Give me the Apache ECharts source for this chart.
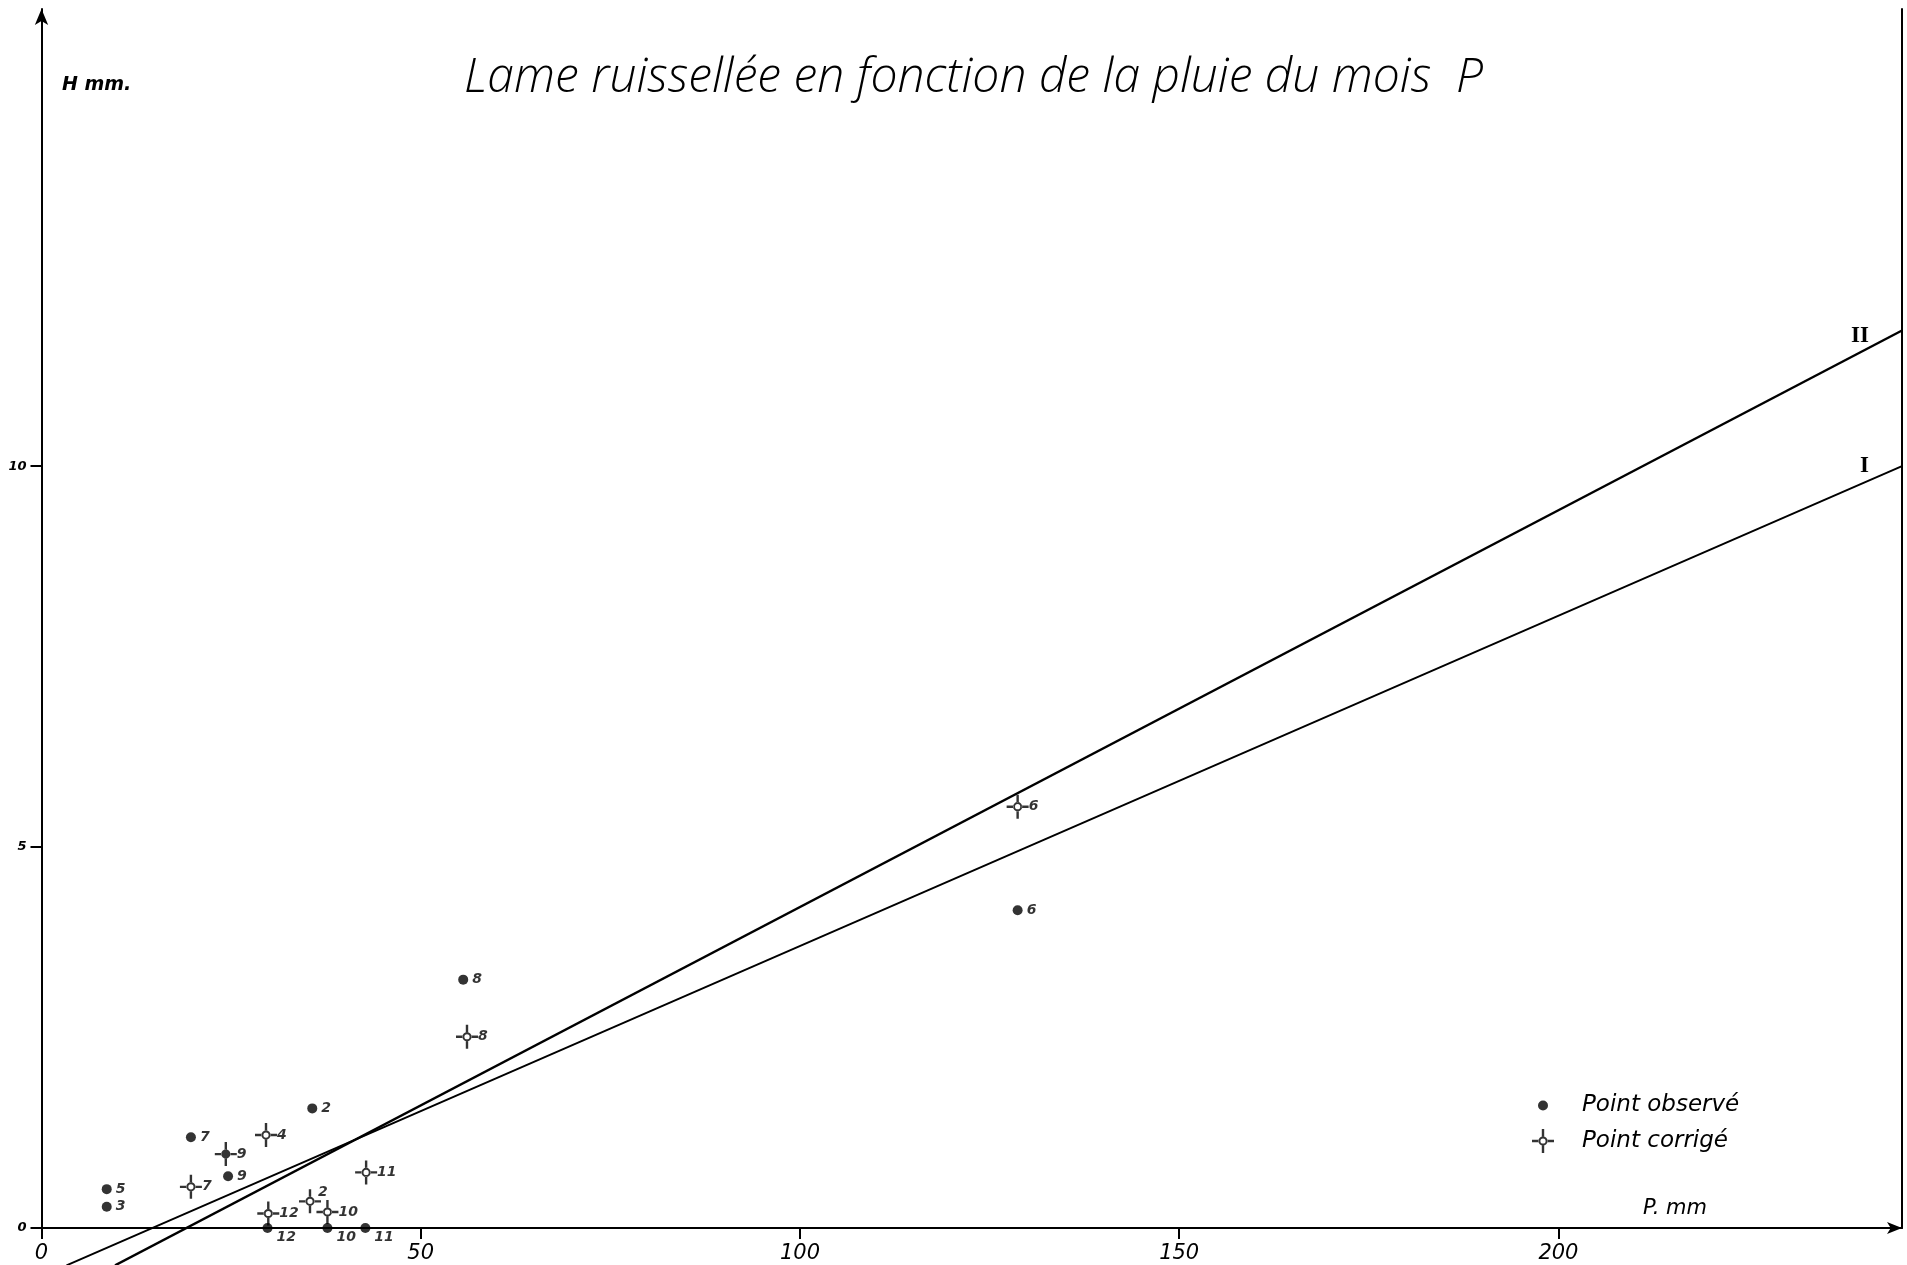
<!DOCTYPE html>
<html>
<head>
<meta charset="utf-8">
<script src="https://cdn.jsdelivr.net/npm/echarts@6/dist/echarts.min.js"></script>
<style>html,body{margin:0;padding:0;background:#fff}#chart{width:1907px;height:1265px}</style>
</head>
<body>
<div id="chart"></div>
<script>
// ---- data ----
const titleText = 'Lame ruissellée en fonction de la pluie du mois  P';
const xTicks = [0, 50, 100, 150, 200];
const yTicks = [0, 5, 10];

const obsLabels = ['5', '3', '7', '9', '2', '12', '10', '11', '8', '6'];
const obsP = [8.6, 8.6, 19.7, 24.6, 35.7, 29.8, 37.7, 42.7, 55.6, 128.7];
const obsH = [0.51, 0.28, 1.19, 0.68, 1.57, 0, 0, 0, 3.26, 4.17];

const corrLabels = ['7', '9', '4', '12', '2', '10', '11', '8', '6'];
const corrP = [19.7, 24.3, 29.6, 29.9, 35.4, 37.7, 42.8, 56.1, 128.7];
const corrH = [0.54, 0.97, 1.22, 0.19, 0.35, 0.21, 0.73, 2.51, 5.53];
const corrFilled = ['9'];

const lineI_P = [3.3, 245.3];
const lineI_H = [-0.49, 10.0];
const lineII_P = [9.7, 245.3];
const lineII_H = [-0.49, 11.78];

// ---- styling ----
const INK = '#000';
const handFont = 'DejaVu Sans';
const crossRing = 'path://M10.8,0h2.4v7.6h-2.4z M10.8,16.4h2.4v7.6h-2.4z M1,10.8h6.8v2.4h-6.8z M16.2,10.8h6.8v2.4h-6.8z ' +
  'M12,7.4A4.6,4.6 0 0,0 12,16.6A4.6,4.6 0 0,0 12,7.4Z M12,9.4A2.6,2.6 0 0,1 12,14.6A2.6,2.6 0 0,1 12,9.4Z';
const crossFilled = 'path://M10.8,0h2.4v7.6h-2.4z M10.8,16.4h2.4v7.6h-2.4z M1,10.8h6.8v2.4h-6.8z M16.2,10.8h6.8v2.4h-6.8z ' +
  'M12,7.4A4.6,4.6 0 0,0 12,16.6A4.6,4.6 0 0,0 12,7.4Z';
// label placement tweaks (style only)
const corrLabelOffset = { '2': [-3, -9] };

const pointLabel = {
  show: true, position: 'right', distance: 4, color: INK,
  fontFamily: handFont, fontStyle: 'italic', fontSize: 14, fontWeight: 'bold'
};

const obsData = obsP.map((p, i) => {
  const item = { value: [p, obsH[i]], name: obsLabels[i] };
  if (obsH[i] === 0) item.label = { offset: [0, 9] };
  return item;
});
const corrData = corrP.map((p, i) => {
  const item = { value: [p, corrH[i]], name: corrLabels[i] };
  if (corrFilled.indexOf(corrLabels[i]) >= 0) item.symbol = crossFilled;
  if (corrLabelOffset[corrLabels[i]]) item.label = { offset: corrLabelOffset[corrLabels[i]] };
  return item;
});
function lineData(ps, hs, tag, dy) {
  return ps.map((p, i) => {
    const item = { value: [p, hs[i]] };
    if (i === ps.length - 1) {
      item.label = {
        show: true, formatter: tag, position: 'left', distance: 33, offset: [0, dy],
        fontFamily: 'Liberation Serif', fontSize: 23, fontWeight: 'bold', color: INK
      };
    }
    return item;
  });
}

const chart = echarts.init(document.getElementById('chart'), null, { renderer: 'canvas' });
chart.setOption({
  backgroundColor: '#fff',
  animation: false,
  title: [
    { text: titleText, left: 459, top: 49,
      textStyle: { fontFamily: 'Open Sans', fontStyle: 'italic', fontWeight: 300, fontSize: 48, color: INK } },
    { text: 'H mm.', left: 57, top: 71,
      textStyle: { fontFamily: handFont, fontStyle: 'italic', fontWeight: 'bold', fontSize: 19, color: INK } },
    { text: 'P. mm', left: 1638, top: 1193,
      textStyle: { fontFamily: handFont, fontStyle: 'italic', fontWeight: 'normal', fontSize: 21, color: INK } }
  ],
  legend: [
    { data: ['Point observé'], orient: 'vertical', left: 1533, top: 1089,
      itemWidth: 68, itemHeight: 10, symbolKeepAspect: true,
      textStyle: { fontFamily: handFont, fontStyle: 'italic', fontSize: 23, color: INK } },
    { data: ['Point corrigé'], orient: 'vertical', left: 1527, top: 1124,
      itemWidth: 68, itemHeight: 24, symbolKeepAspect: true,
      textStyle: { fontFamily: handFont, fontStyle: 'italic', fontSize: 23, color: INK } }
  ],
  grid: { left: 41.5, right: 5, top: 9, bottom: 37, outerBoundsMode: 'none', containLabel: false },
  xAxis: {
    type: 'value', min: 0, max: 245.3,
    axisLine: { show: true, onZero: false, symbol: ['none', 'arrow'], symbolSize: [9, 15],
      lineStyle: { color: INK, width: 2 } },
    axisTick: { show: true, inside: false, length: 11, customValues: xTicks,
      lineStyle: { color: INK, width: 2 } },
    axisLabel: { show: true, customValues: xTicks, margin: 15, color: INK,
      fontFamily: handFont, fontStyle: 'italic', fontWeight: 'normal', fontSize: 21 },
    splitLine: { show: false }
  },
  yAxis: [
    { type: 'value', min: 0, max: 16,
      axisLine: { show: true, onZero: false, symbol: ['none', 'arrow'], symbolSize: [10, 16],
        lineStyle: { color: INK, width: 2 } },
      axisTick: { show: true, inside: false, length: 11, customValues: yTicks,
        lineStyle: { color: INK, width: 2 } },
      axisLabel: { show: true, customValues: yTicks, margin: 15, color: INK,
        fontFamily: handFont, fontStyle: 'italic', fontWeight: 'bold', fontSize: 13 },
      splitLine: { show: false } },
    { type: 'value', min: 0, max: 16, position: 'right',
      axisLine: { show: true, onZero: false, lineStyle: { color: INK, width: 2 } },
      axisTick: { show: false }, axisLabel: { show: false }, splitLine: { show: false } }
  ],
  series: [
    { name: 'I', type: 'line', data: lineData(lineI_P, lineI_H, 'I', 0),
      symbol: 'circle', symbolSize: 0.1, showSymbol: true, clip: false,
      itemStyle: { color: INK }, lineStyle: { color: INK, width: 2 }, z: 2 },
    { name: 'II', type: 'line', data: lineData(lineII_P, lineII_H, 'II', 6),
      symbol: 'circle', symbolSize: 0.1, showSymbol: true, clip: false,
      itemStyle: { color: INK }, lineStyle: { color: INK, width: 2.4 }, z: 2 },
    { name: 'Point observé', type: 'scatter', data: obsData, symbol: 'circle', symbolSize: 10,
      itemStyle: { color: INK }, label: Object.assign({}, pointLabel, { formatter: p => p.name }), z: 4 },
    { name: 'Point corrigé', type: 'scatter', data: corrData, symbol: crossRing, symbolSize: 24,
      symbolKeepAspect: true, itemStyle: { color: INK },
      label: Object.assign({}, pointLabel, { distance: 0, formatter: p => p.name }), z: 5 }
  ]
});
</script>
</body>
</html>
